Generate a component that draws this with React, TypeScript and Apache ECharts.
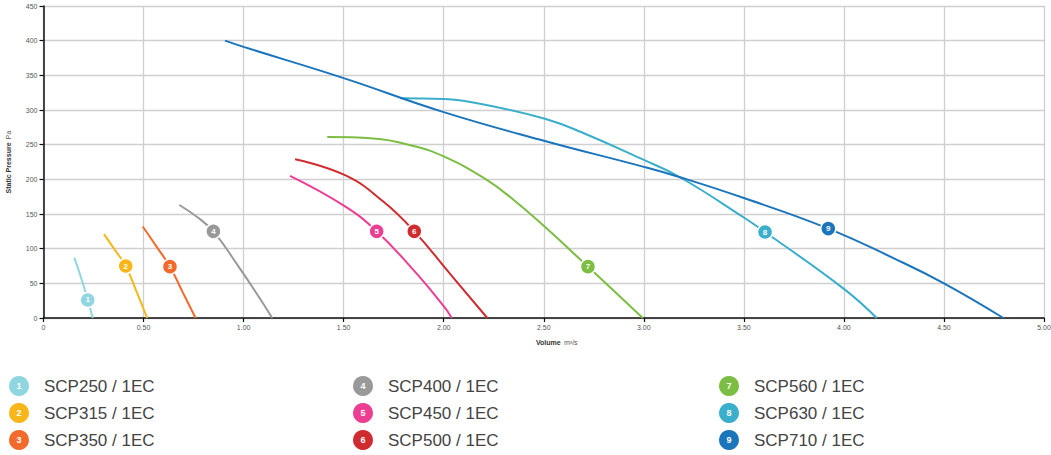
import React, { useEffect, useRef } from "react";
import * as echarts from "echarts";

const seriesNames = [
  "SCP250 / 1EC",
  "SCP315 / 1EC",
  "SCP350 / 1EC",
  "SCP400 / 1EC",
  "SCP450 / 1EC",
  "SCP500 / 1EC",
  "SCP560 / 1EC",
  "SCP630 / 1EC",
  "SCP710 / 1EC",
];
const seriesColors = [
  "#8fd6e1",
  "#f7b71b",
  "#f26b2d",
  "#999999",
  "#ec3f93",
  "#d02b2f",
  "#7cbd43",
  "#3aaecb",
  "#1b75bc",
];

// [volume m³/s, static pressure Pa]
const scp250 = [[0.154, 87], [0.188, 58], [0.221, 26], [0.246, 0]];
const scp315 = [[0.302, 121], [0.355, 99], [0.411, 75], [0.465, 38], [0.518, 0]];
const scp350 = [[0.496, 132], [0.565, 103], [0.632, 74], [0.696, 37], [0.76, 0]];
const scp400 = [[0.679, 163], [0.766, 146], [0.849, 125], [0.975, 74], [1.075, 31], [1.143, 0]];
const scp450 = [[1.232, 205], [1.507, 161], [1.665, 125], [1.865, 64], [2.003, 16], [2.04, 0]];
const scp500 = [[1.257, 229], [1.507, 206], [1.698, 168], [1.853, 125], [2.031, 64], [2.218, 0]];
const scp560 = [[1.418, 261], [1.65, 259], [1.85, 248], [2.0, 233], [2.2, 202], [2.347, 171], [2.515, 129], [2.721, 74], [2.995, 0]];
const scp630 = [[1.782, 317], [2.0, 316], [2.25, 305], [2.51, 287], [2.68, 269], [3.0, 228], [3.181, 203], [3.5, 145], [3.606, 124], [4.0, 42], [4.164, 0]];
const scp710 = [[0.907, 400], [1.0, 391], [1.5, 346], [2.0, 297], [2.51, 255], [3.0, 218], [3.181, 203], [3.5, 173], [3.922, 129], [4.25, 86], [4.5, 50], [4.797, 0]];

const curves = [scp250, scp315, scp350, scp400, scp450, scp500, scp560, scp630, scp710];

const markerX = [0.221, 0.411, 0.632, 0.849, 1.665, 1.853, 2.721, 3.606, 3.922];
const markerY = [26, 75, 74, 125, 125, 125, 74, 124, 129];

const legendColX = [19, 363, 729];
const legendRowY = [386, 413, 440];

export default function App() {
  const ref = useRef<HTMLDivElement>(null);

  useEffect(() => {
    const chart = echarts.init(ref.current!, null, { renderer: "svg" });

    const series = curves.map((data, i) => ({
      name: seriesNames[i],
      type: "line",
      data,
      smooth: 0.45,
      showSymbol: false,
      lineStyle: { color: seriesColors[i], width: 2 },
      itemStyle: { color: seriesColors[i] },
      z: 2,
      markPoint: {
        symbol: "circle",
        symbolSize: 15,
        itemStyle: { color: seriesColors[i], borderColor: "#ffffff", borderWidth: 1.5 },
        label: {
          show: true,
          formatter: String(i + 1),
          color: "#ffffff",
          fontSize: 8,
          fontWeight: "bold",
          fontFamily: "Liberation Sans",
        },
        data: [{ coord: [markerX[i], markerY[i]] }],
      },
    }));

    const legendGraphics: any[] = [];
    seriesNames.forEach((name, i) => {
      const col = Math.floor(i / 3);
      const row = i % 3;
      const cx = legendColX[col];
      const cy = legendRowY[row];
      legendGraphics.push({
        type: "circle",
        shape: { cx, cy, r: 10 },
        style: { fill: seriesColors[i] },
      });
      legendGraphics.push({
        type: "text",
        x: cx,
        y: cy,
        style: {
          text: String(i + 1),
          fill: "#ffffff",
          font: "bold 9px 'Liberation Sans'",
          textAlign: "center",
          textVerticalAlign: "middle",
        },
      });
      legendGraphics.push({
        type: "text",
        x: cx + 25,
        y: cy,
        style: {
          text: name,
          fill: "#444444",
          font: "17px 'Liberation Sans'",
          textAlign: "left",
          textVerticalAlign: "middle",
        },
      });
    });

    chart.setOption({
      animation: false,
      backgroundColor: "#ffffff",
      grid: { left: 43.5, right: 7, top: 6, height: 312, containLabel: false, outerBoundsMode: "none" },
      xAxis: {
        type: "value",
        min: 0,
        max: 5,
        interval: 0.5,
        name: "{b|Volume} {n|m³/s}",
        nameLocation: "middle",
        nameGap: 18,
        nameTextStyle: {
          padding: [0, 0, 0, 26],
          rich: {
            b: { fontSize: 7, fontWeight: "bold", color: "#333", fontFamily: "Liberation Sans" },
            n: { fontSize: 7, color: "#555", fontFamily: "Liberation Sans" },
          },
        },
        axisLine: { show: true, lineStyle: { color: "#111", width: 1.5 } },
        axisTick: { show: true, length: 4, lineStyle: { color: "#111", width: 1.2 } },
        axisLabel: {
          fontSize: 7,
          color: "#555",
          margin: 6,
          fontFamily: "Liberation Sans",
          formatter: (v: number) => (v === 0 ? "0" : v.toFixed(2)),
        },
        splitLine: { show: true, lineStyle: { color: "#cfcfcf", width: 1.3 } },
      },
      yAxis: {
        type: "value",
        min: 0,
        max: 450,
        interval: 50,
        name: "{b|Static Pressure} {n|Pa}",
        nameLocation: "middle",
        nameGap: 23,
        nameRotate: 90,
        nameTextStyle: {
          rich: {
            b: { fontSize: 7, fontWeight: "bold", color: "#333", fontFamily: "Liberation Sans" },
            n: { fontSize: 7, color: "#555", fontFamily: "Liberation Sans" },
          },
        },
        axisLine: { show: true, lineStyle: { color: "#111", width: 1.5 } },
        axisTick: { show: true, length: 4, lineStyle: { color: "#111", width: 1.2 } },
        axisLabel: { fontSize: 7, color: "#555", margin: 6, fontFamily: "Liberation Sans" },
        splitLine: { show: true, lineStyle: { color: "#cfcfcf", width: 1.3 } },
      },
      series,
      graphic: legendGraphics,
    });

    return () => chart.dispose();
  }, []);

  return (
    <div
      ref={ref}
      style={{ position: "fixed", left: 0, top: 0, width: 1051, height: 455, background: "#fff" }}
    />
  );
}
